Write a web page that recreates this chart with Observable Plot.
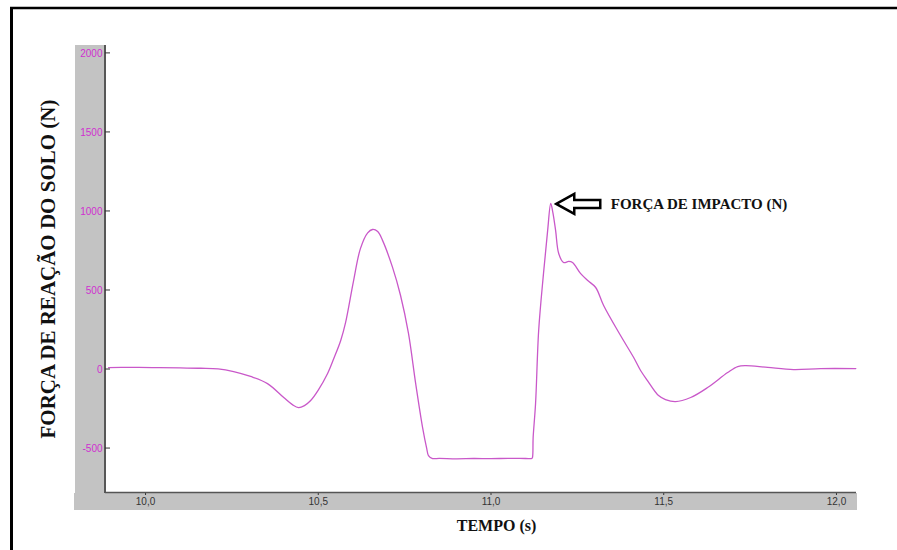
<!DOCTYPE html>
<html><head><meta charset="utf-8">
<script src="https://cdn.jsdelivr.net/npm/d3@7"></script>
<script src="https://cdn.jsdelivr.net/npm/@observablehq/plot@0.6"></script>
<style>
body{margin:0;background:#fff}
#chart{position:relative;width:897px;height:550px}
</style>
</head><body><div id="chart"></div>
<script>
// Time (s)
const time = [9.893, 9.93, 9.98, 10.04, 10.10, 10.16, 10.21, 10.255, 10.304, 10.353, 10.40, 10.425, 10.443, 10.46, 10.478, 10.50,
  10.527, 10.545, 10.565, 10.579, 10.602, 10.622, 10.643, 10.657, 10.672, 10.686, 10.715, 10.738, 10.761, 10.782, 10.802, 10.814, 10.819, 10.831,
  10.85, 10.90, 10.95, 11.00, 11.05, 11.10, 11.118,
  11.120, 11.122, 11.129, 11.138, 11.152, 11.164, 11.173, 11.179, 11.187, 11.196, 11.210, 11.225, 11.236, 11.259, 11.280, 11.303, 11.326,
  11.375, 11.413, 11.433, 11.453, 11.485, 11.505, 11.534, 11.578, 11.627, 11.685, 11.714, 11.737, 11.801, 11.876, 11.954, 12.056];
// Ground reaction force (N)
const force = [12, 14, 13, 12, 10, 8, 4, -13, -44, -89, -177, -222, -241, -228, -196, -130,
  -25, 70, 184, 297, 560, 765, 865, 886, 873, 817, 646, 470, 230, -89, -367, -500, -544, -563,
  -562, -565, -563, -564, -562, -563, -563,
  -557, -430, -215, 247, 608, 880, 1051, 994, 880, 734, 677, 684, 677, 608, 563, 519, 405,
  215, 76, -6, -70, -165, -190, -203, -177, -114, -19, 19, 25, 13, 0, 6, 6];
const xTicks = [10, 10.5, 11, 11.5, 12];
const yTicks = [-500, 0, 500, 1000, 1500, 2000];
const xLabel = "TEMPO (s)";
const yLabel = "FORÇA DE REAÇÃO DO SOLO (N)";
const peakLabel = "FORÇA DE IMPACTO (N)";
const peakTime = 11.173, peakForce = 1051;

const data = time.map((t, i) => ({t, f: force[i]}));
const serif = "'Liberation Serif', 'Times New Roman', serif";

const plot = Plot.plot({
  width: 897, height: 550,
  marginLeft: 106, marginRight: 41, marginTop: 45, marginBottom: 58,
  x: {domain: [9.887, 12.058]},
  y: {domain: [-778, 2050]},
  style: {background: "transparent", fontFamily: "'Liberation Sans', Arial, sans-serif", overflow: "visible"},
  marks: [
    Plot.axisX({ticks: xTicks, tickFormat: d => d.toFixed(1).replace(".", ","), tickSize: 3, tickPadding: 2, fontSize: 10, color: "#333", label: null}),
    Plot.axisY({ticks: yTicks, tickFormat: d => String(d), tickSize: 0, tickPadding: 4, fontSize: 10, color: "#d030d0", label: null}),
    Plot.line(data, {x: "t", y: "f", stroke: "#c958c9", strokeWidth: 1.3, curve: "catmull-rom"}),
    Plot.text([{t: peakTime, f: peakForce, s: peakLabel}], {x: "t", y: "f", text: "s", dx: 60, dy: 1, textAnchor: "start",
      fontFamily: serif, fontWeight: "bold", fontSize: 15, fill: "#111"}),
    Plot.text([xLabel], {frameAnchor: "bottom", dx: 15, dy: 38, textAnchor: "middle", fontFamily: serif, fontWeight: "bold", fontSize: 16, fill: "#111"}),
    Plot.text([yLabel], {frameAnchor: "left", dx: -58, rotate: -90, textAnchor: "middle", fontFamily: serif, fontWeight: "bold", fontSize: 21, fill: "#111"})
  ]
});
document.getElementById("chart").appendChild(plot);

// decorations
const svg = d3.select(plot);
const xs = plot.scale("x"), ys = plot.scale("y");
const bg = svg.insert("g", ":first-child");
bg.append("rect").attr("x", 75).attr("y", 45).attr("width", 31).attr("height", 448).attr("fill", "#c3c3c3");
bg.append("rect").attr("x", 74).attr("y", 493).attr("width", 783).attr("height", 17).attr("fill", "#c3c3c3");
const fg = svg.append("g");
fg.append("line").attr("x1", 105).attr("x2", 105).attr("y1", 45).attr("y2", 493).attr("stroke", "#333").attr("stroke-width", 1.5);
fg.append("line").attr("x1", 105).attr("x2", 856).attr("y1", 492.5).attr("y2", 492.5).attr("stroke", "#555").attr("stroke-width", 1.5);
for (const v of yTicks) {
  const y = ys.apply(v);
  fg.append("line").attr("x1", 105).attr("x2", 110).attr("y1", y).attr("y2", y).attr("stroke", "#333");
}
// frame border
fg.append("line").attr("x1", 11.5).attr("x2", 11.5).attr("y1", 7).attr("y2", 550).attr("stroke", "#000").attr("stroke-width", 3);
fg.append("line").attr("x1", 10).attr("x2", 897).attr("y1", 8).attr("y2", 8).attr("stroke", "#000").attr("stroke-width", 2.5);
// outline arrow pointing at the impact peak
const px = xs.apply(peakTime) + 6, py = ys.apply(peakForce) + 1;
fg.append("path")
  .attr("d", `M${px},${py} L${px+18},${py-10} L${px+18},${py-4} L${px+44},${py-4} L${px+44},${py+4} L${px+18},${py+4} L${px+18},${py+10} Z`)
  .attr("fill", "#fff").attr("stroke", "#000").attr("stroke-width", 2.5).attr("stroke-linejoin", "miter");
</script>
</body></html>
